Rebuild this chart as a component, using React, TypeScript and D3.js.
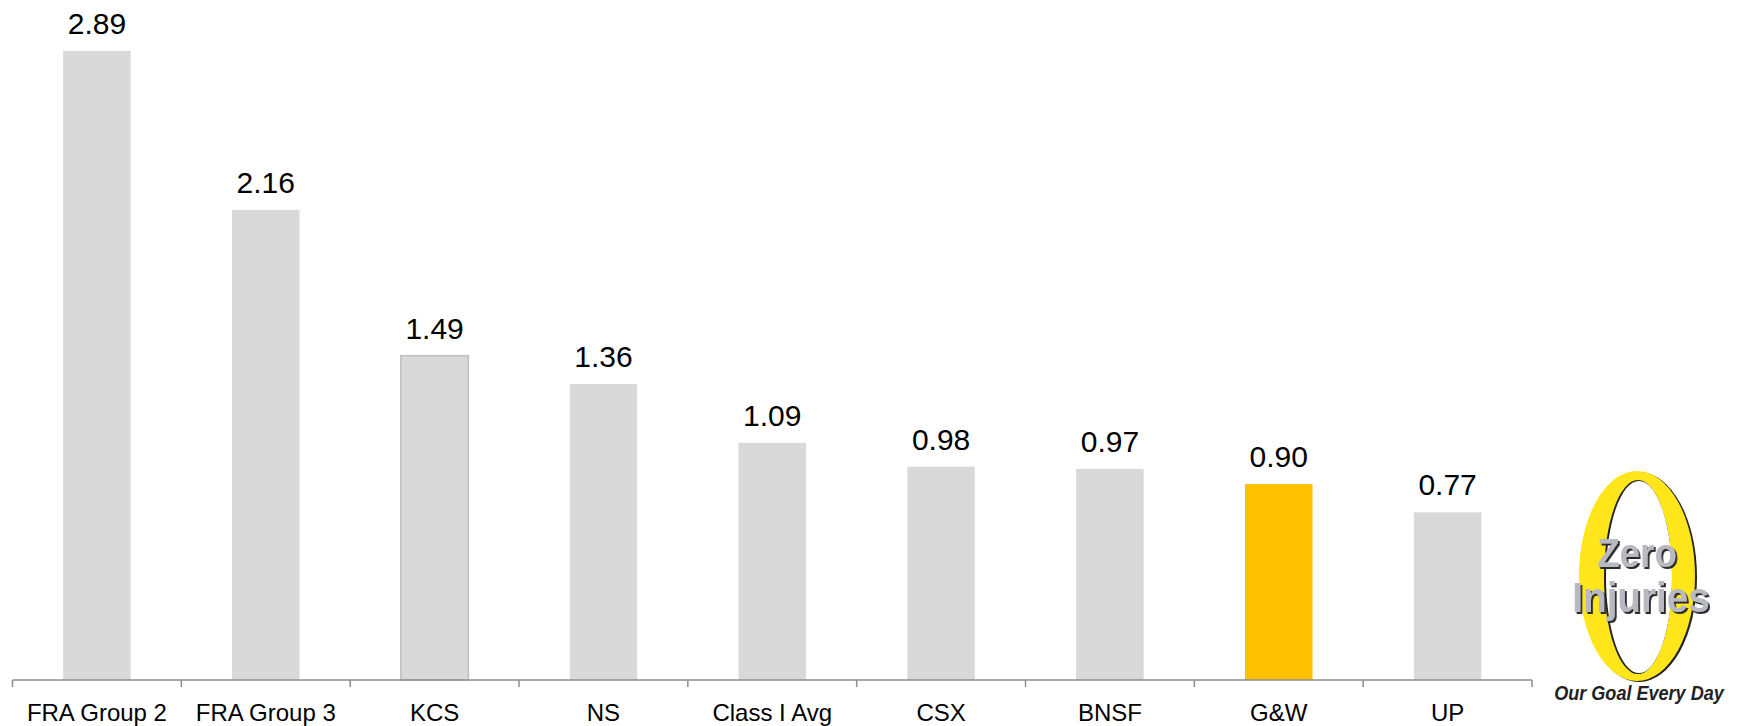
import React, { useEffect } from "react";
import * as d3 from "d3";

const categories = ["FRA Group 2", "FRA Group 3", "KCS", "NS", "Class I Avg", "CSX", "BNSF", "G&W", "UP"];
const values = [2.89, 2.16, 1.49, 1.36, 1.09, 0.98, 0.97, 0.9, 0.77];
const highlight = ["G&W"];
const valueLabels = ["2.89", "2.16", "1.49", "1.36", "1.09", "0.98", "0.97", "0.90", "0.77"];

const W = 1737;
const H = 726;
const FONT = "'Liberation Sans', Arial, sans-serif";
const LOGO_FONT = "'Liberation Sans Narrow', 'Arial Narrow', 'Liberation Sans', sans-serif";

export default function App() {
  useEffect(() => {
    document.body.style.margin = "0";
  }, []);

  const x = d3
    .scaleBand<string>()
    .domain(categories)
    .range([12.5, 1532])
    .paddingInner(0.6)
    .paddingOuter(0.3);
  const y = d3.scaleLinear().domain([0, 2.89]).range([680, 51]);
  const step = x.step();
  const x0 = 12.5;
  const ticks = d3.range(categories.length + 1).map((i) => x0 + i * step);

  return (
    <svg width={W} height={H} style={{ display: "block" }}>
      <defs>
        <filter id="shadow" x="-10%" y="-10%" width="130%" height="130%">
          <feDropShadow dx="2" dy="2" stdDeviation="0.6" floodColor="#2a2a2a" floodOpacity="1" />
        </filter>
      </defs>
      <rect width={W} height={H} fill="#ffffff" />
      {categories.map((c, i) => {
        const isHi = highlight.includes(c);
        return (
          <g key={c}>
            <rect
              x={x(c)}
              y={y(values[i])}
              width={x.bandwidth()}
              height={y(0) - y(values[i])}
              fill={isHi ? "#FFC000" : "#D9D9D9"}
              stroke={c === "KCS" ? "#BFBFBF" : "none"}
              strokeWidth={1.5}
            />
            <text
              x={(x(c) as number) + x.bandwidth() / 2}
              y={y(values[i]) - 17}
              textAnchor="middle"
              fontFamily={FONT}
              fontSize={30}
              fill="#000"
            >
              {valueLabels[i]}
            </text>
            <text
              x={(x(c) as number) + x.bandwidth() / 2}
              y={721}
              textAnchor="middle"
              fontFamily={FONT}
              fontSize={24}
              fill="#000"
            >
              {c}
            </text>
          </g>
        );
      })}
      <line x1={x0} x2={1532} y1={680} y2={680} stroke="#8C8C8C" strokeWidth={1.5} />
      {ticks.map((t, i) => (
        <line key={i} x1={t} x2={t} y1={680} y2={687} stroke="#8C8C8C" strokeWidth={1.5} />
      ))}
      {/* Zero Injuries logo */}
      <g>
        <ellipse cx={1639} cy={577} rx={58} ry={105} fill="#222" />
        <ellipse cx={1637} cy={576} rx={58} ry={105} fill="#FFE61A" />
        <ellipse cx={1638} cy={577} rx={34} ry={97} fill="#222" />
        <ellipse cx={1639} cy={577} rx={33} ry={96} fill="#ffffff" />
        <g transform="translate(1637,567) scale(0.92,1)">
          <text
            x={0}
            y={0}
            textAnchor="middle"
            fontFamily={LOGO_FONT}
            fontWeight="bold"
            fontSize={40}
            fill="#B8B9C1"
            filter="url(#shadow)"
          >
            Zero
          </text>
        </g>
        <g transform="translate(1641,612) scale(0.92,1)">
          <text
            x={0}
            y={0}
            textAnchor="middle"
            fontFamily={LOGO_FONT}
            fontWeight="bold"
            fontSize={42}
            fill="#B8B9C1"
            filter="url(#shadow)"
          >
            Injuries
          </text>
        </g>
        <g transform="translate(1639,700) scale(0.86,1)">
          <text
            x={0}
            y={0}
            textAnchor="middle"
            fontFamily={LOGO_FONT}
            fontWeight="bold"
            fontStyle="italic"
            fontSize={21}
            fill="#222"
          >
            Our Goal Every Day
          </text>
        </g>
      </g>
    </svg>
  );
}
